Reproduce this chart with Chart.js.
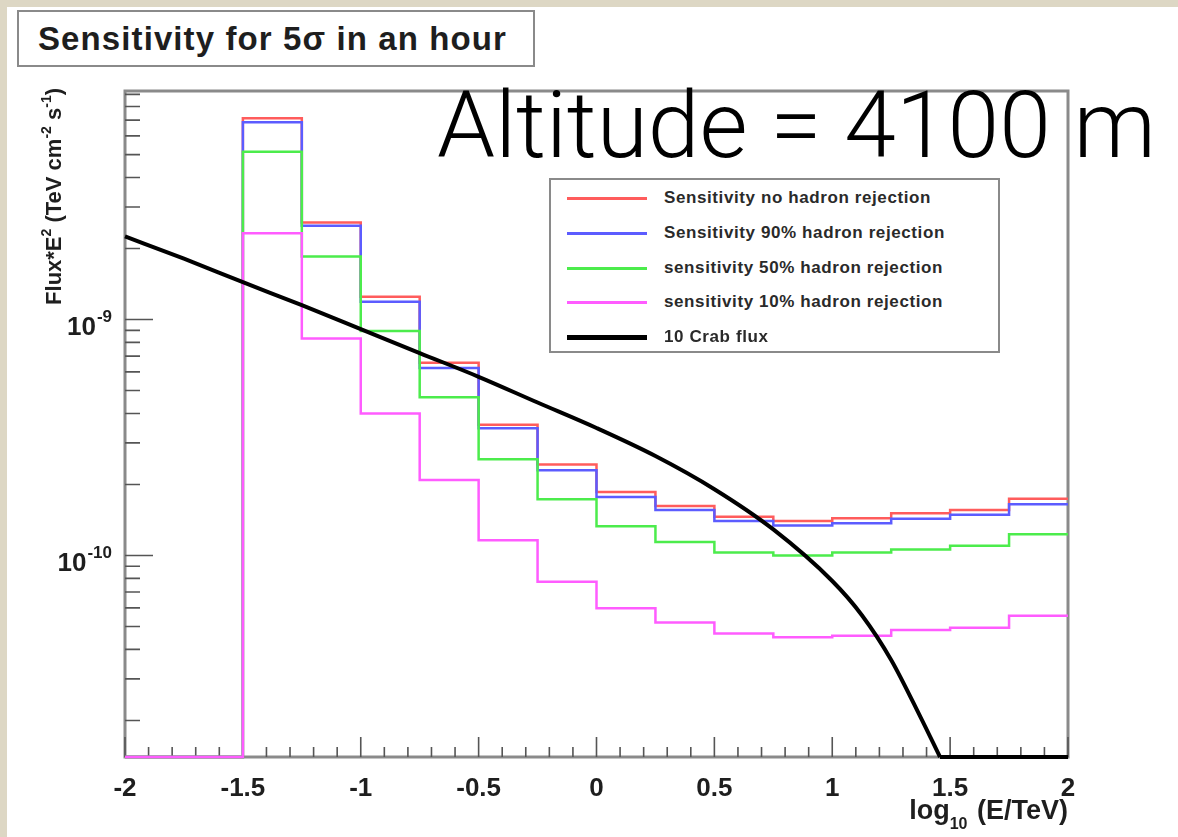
<!DOCTYPE html>
<html>
<head>
<meta charset="utf-8">
<script src="https://cdn.jsdelivr.net/npm/chart.js"></script>
<style>
  html, body { margin: 0; padding: 0; }
  body {
    width: 1178px; height: 837px; position: relative; overflow: hidden;
    background: #ddd7c4;
    font-family: "Liberation Sans", Arial, sans-serif;
  }
  #panel { position: absolute; left: 7px; top: 7px; right: 0; bottom: 0; background: #fff; }
  #wrap { position: absolute; left: 0; top: 0; width: 1178px; height: 837px; }
  #title {
    position: absolute; left: 17px; top: 10px; width: 518px; height: 57px; box-sizing: border-box;
    border: 2px solid #8a8a8a; background: #fff; color: #1e1e1e;
    font-weight: bold; font-size: 33px; letter-spacing: 1.1px; line-height: 54px; padding-left: 19px;
    white-space: nowrap;
  }
  #altitude {
    position: absolute; left: 437px; top: 79px; font-family: Roboto, "Liberation Sans", sans-serif;
    font-weight: 300; font-size: 93px; line-height: 93px; color: #000; white-space: nowrap;
  }
  #legend {
    position: absolute; left: 549px; top: 178px; width: 451px; height: 175px; box-sizing: border-box;
    border: 2px solid #8a8a8a; background: #fff;
  }
  .row { position: absolute; left: 0; height: 34px; width: 100%; }
  .row .ln { position: absolute; left: 16px; width: 80px; top: 16px; height: 3px; }
  .row .tx {
    position: absolute; left: 113px; top: 0; line-height: 34px; font-weight: bold; font-size: 17px;
    letter-spacing: 0.6px; color: #2a2a2a; white-space: nowrap;
  }
  #ytitle {
    position: absolute; left: -102px; top: 225px; width: 300px; height: 26px; line-height: 26px;
    text-align: right; transform: rotate(-90deg); font-weight: bold; font-size: 22px; color: #1e1e1e;
    white-space: nowrap;
  }
  #ytitle sup { font-size: 14px; position: relative; top: -2px; }
  #xtitle {
    position: absolute; right: 110px; top: 797px; line-height: 27px; font-weight: bold; font-size: 27px;
    color: #1e1e1e; white-space: nowrap;
  }
  #xtitle .sub { font-size: 16px; position: relative; top: 10px; margin-right: 2px; }
</style>
</head>
<body>
<div id="panel"></div>
<div id="wrap"><canvas id="chart"></canvas></div>
<div id="title">Sensitivity for 5σ in an hour</div>
<div id="altitude">Altitude = 4100 m</div>
<div id="legend"></div>
<div id="ytitle">Flux*E<sup>2</sup> (TeV cm<sup>-2</sup> s<sup>-1</sup>)</div>
<div id="xtitle">log<span class="sub">10</span> (E/TeV)</div>

<script>
// bin edges of the histograms, log10(E/TeV)
const binEdges = [-2, -1.75, -1.5, -1.25, -1, -0.75, -0.5, -0.25, 0, 0.25, 0.5, 0.75, 1, 1.25, 1.5, 1.75, 2];

// bin contents (16 bins), 0 = empty bin (drawn on the axis floor)
const noRejection = [0, 0, 7.12e-9, 2.58e-9, 1.25e-9, 6.56e-10, 3.58e-10, 2.43e-10, 1.86e-10, 1.62e-10, 1.46e-10, 1.40e-10, 1.44e-10, 1.51e-10, 1.56e-10, 1.74e-10];
const rejection90 = [0, 0, 6.85e-9, 2.50e-9, 1.19e-9, 6.23e-10, 3.46e-10, 2.30e-10, 1.77e-10, 1.56e-10, 1.40e-10, 1.34e-10, 1.37e-10, 1.43e-10, 1.49e-10, 1.65e-10];
const rejection50 = [0, 0, 5.14e-9, 1.85e-9, 8.94e-10, 4.69e-10, 2.56e-10, 1.73e-10, 1.33e-10, 1.14e-10, 1.03e-10, 1.00e-10, 1.03e-10, 1.06e-10, 1.10e-10, 1.23e-10];
const rejection10 = [0, 0, 2.32e-9, 8.32e-10, 4.00e-10, 2.09e-10, 1.16e-10, 7.74e-11, 5.98e-11, 5.20e-11, 4.67e-11, 4.50e-11, 4.57e-11, 4.83e-11, 4.94e-11, 5.56e-11];

// 10 Crab flux curve, 0 = below the axis floor
const crabE = [-2, -1.75, -1.5, -1.25, -1, -0.75, -0.5, -0.25, 0, 0.25, 0.5, 0.75, 1, 1.125, 1.25, 1.375, 1.457, 1.75, 2];
const crabFlux = [2.25e-9, 1.81e-9, 1.44e-9, 1.15e-9, 9.11e-10, 7.21e-10, 5.72e-10, 4.45e-10, 3.47e-10, 2.64e-10, 1.91e-10, 1.29e-10, 7.80e-11, 5.60e-11, 3.61e-11, 2.06e-11, 0, 0, 0];

// axes
const xTickValues = [-2, -1.5, -1, -0.5, 0, 0.5, 1, 1.5, 2];
const xTickLabels = ["-2", "-1.5", "-1", "-0.5", "0", "0.5", "1", "1.5", "2"];
const yLabelValues = [1e-9, 1e-10];
const yLabelExps = ["-9", "-10"];
const yMin = 1.4e-11, yMax = 9.3e-9;

const seriesNames = ["Sensitivity no hadron rejection", "Sensitivity 90% hadron rejection",
  "sensitivity 50% hadron rejection", "sensitivity 10% hadron rejection", "10 Crab flux"];
const seriesColors = ["#ff5c5c", "#5c5cff", "#4cec4c", "#ff5cff", "#000000"];

const FONT = '"Liberation Sans", Arial, sans-serif';
Chart.defaults.font.family = FONT;

// histogram -> step line points on the bin edges
function histPoints(vals) {
  return binEdges.map((e, i) => {
    const v = vals[Math.min(i, vals.length - 1)];
    return { x: e, y: v > 0 ? v : yMin };
  });
}

function histSet(idx, vals, order) {
  return {
    label: seriesNames[idx],
    data: histPoints(vals),
    borderColor: seriesColors[idx],
    borderWidth: 2.5,
    stepped: "before",
    pointRadius: 0,
    fill: false,
    clip: 5,
    order: order
  };
}

// crab curve: smooth part down to the floor, then straight along the floor
const crabPts = crabE.map((e, i) => ({ x: e, y: crabFlux[i] > 0 ? crabFlux[i] : yMin }));
const firstFloor = crabFlux.indexOf(0);
const crabCurve = crabPts.slice(0, firstFloor + 1);
const crabFloor = crabPts.slice(firstFloor);

// frame, inward ticks and 10^n labels in ROOT style
const rootAxes = {
  id: "rootAxes",
  beforeDatasetsDraw(chart) {
    const { ctx, chartArea: a, scales: { x, y } } = chart;
    ctx.save();
    ctx.strokeStyle = "#8a8a8a";
    ctx.lineWidth = 3;
    ctx.strokeRect(a.left, a.top, a.right - a.left, a.bottom - a.top);

    ctx.strokeStyle = "#555";
    ctx.lineWidth = 1.6;
    ctx.beginPath();
    x.ticks.forEach(t => {
      const px = x.getPixelForValue(t.value);
      const big = xTickValues.some(v => Math.abs(v - t.value) < 1e-6);
      ctx.moveTo(px, a.bottom);
      ctx.lineTo(px, a.bottom - (big ? 20 : 10));
    });
    y.ticks.forEach(t => {
      const py = y.getPixelForValue(t.value);
      ctx.moveTo(a.left, py);
      ctx.lineTo(a.left + (t.major ? 28 : 15), py);
    });
    ctx.stroke();
    ctx.restore();
  },
  afterDraw(chart) {
    const { ctx, scales: { y } } = chart;
    ctx.save();
    ctx.fillStyle = "#1e1e1e";
    ctx.textBaseline = "alphabetic";
    yLabelValues.forEach((v, i) => {
      const py = y.getPixelForValue(v);
      ctx.font = "bold 17px " + FONT;
      const ew = ctx.measureText(yLabelExps[i]).width;
      const right = 112;
      ctx.textAlign = "left";
      ctx.fillText(yLabelExps[i], right - ew, py + 2);
      ctx.font = "bold 26px " + FONT;
      ctx.textAlign = "right";
      ctx.fillText("10", right - ew - 1, py + 15);
    });
    ctx.restore();
  }
};

new Chart(document.getElementById("chart"), {
  type: "line",
  data: {
    datasets: [
      {
        label: seriesNames[4],
        data: crabCurve,
        borderColor: seriesColors[4],
        borderWidth: 4,
        cubicInterpolationMode: "monotone",
        pointRadius: 0,
        fill: false,
        clip: 5,
        order: 0
      },
      {
        label: seriesNames[4] + " (floor)",
        data: crabFloor,
        borderColor: seriesColors[4],
        borderWidth: 4,
        pointRadius: 0,
        fill: false,
        clip: 5,
        order: 0
      },
      histSet(3, rejection10, 1),
      histSet(2, rejection50, 2),
      histSet(1, rejection90, 3),
      histSet(0, noRejection, 4)
    ]
  },
  options: {
    responsive: true,
    maintainAspectRatio: false,
    animation: false,
    events: [],
    layout: { padding: { left: 0, right: 110, top: 91, bottom: 20 } },
    plugins: { legend: { display: false }, tooltip: { enabled: false } },
    scales: {
      x: {
        type: "linear",
        position: "bottom",
        min: -2,
        max: 2,
        afterBuildTicks: s => {
          const t = [];
          for (let k = -20; k <= 20; k++) t.push({ value: k / 10 });
          s.ticks = t;
        },
        afterFit: s => { s.height = 60; },
        ticks: {
          autoSkip: false,
          maxRotation: 0,
          padding: 16,
          color: "#1e1e1e",
          font: { size: 26, weight: "bold" },
          callback: v => {
            const i = xTickValues.findIndex(tv => Math.abs(tv - v) < 1e-6);
            return i >= 0 ? xTickLabels[i] : "";
          }
        },
        grid: { display: false, drawTicks: false },
        border: { display: false }
      },
      y: {
        type: "logarithmic",
        position: "left",
        min: yMin,
        max: yMax,
        afterBuildTicks: s => {
          const t = [];
          for (let d = -11; d <= -9; d++) {
            for (let m = 1; m <= 9; m++) {
              const v = m * Math.pow(10, d);
              if (v >= s.min && v <= s.max) t.push({ value: v, major: m === 1 });
            }
          }
          s.ticks = t;
        },
        afterFit: s => { s.width = 125; },
        ticks: { autoSkip: false, callback: () => "" },
        grid: { display: false, drawTicks: false },
        border: { display: false }
      }
    }
  },
  plugins: [rootAxes]
});

// legend box
const legend = document.getElementById("legend");
seriesNames.forEach((name, i) => {
  const row = document.createElement("div");
  row.className = "row";
  row.style.top = (1 + i * 34.75) + "px";
  const ln = document.createElement("div");
  ln.className = "ln";
  ln.style.background = seriesColors[i];
  if (i === 4) { ln.style.height = "5px"; ln.style.top = "15px"; }
  const tx = document.createElement("div");
  tx.className = "tx";
  tx.textContent = name;
  row.appendChild(ln);
  row.appendChild(tx);
  legend.appendChild(row);
});
</script>
</body>
</html>
